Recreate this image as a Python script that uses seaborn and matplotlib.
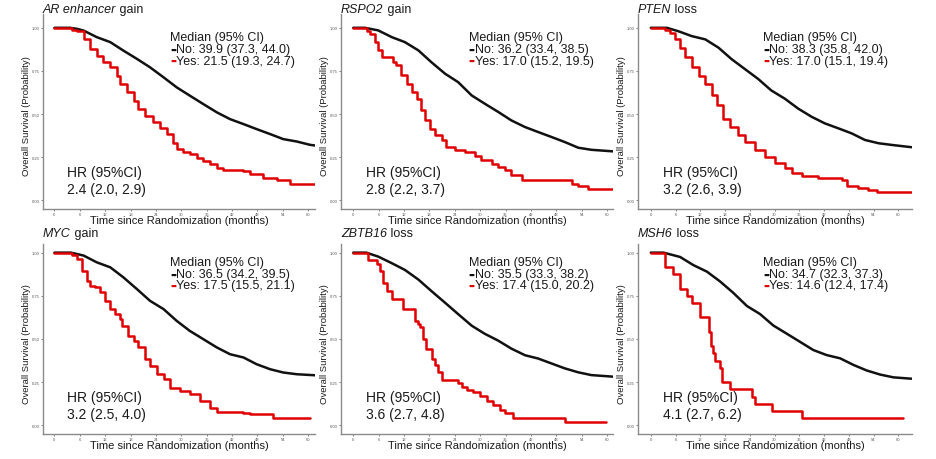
import matplotlib
matplotlib.use("Agg")
import matplotlib.pyplot as plt
import seaborn as sns

# ---- data (months, survival probability) ----
titles_gene = ["AR enhancer", "RSPO2", "PTEN", "MYC", "ZBTB16", "MSH6"]
titles_event = ["gain", "gain", "loss", "gain", "loss", "loss"]
median_no = ["No: 39.9 (37.3, 44.0)", "No: 36.2 (33.4, 38.5)", "No: 38.3 (35.8, 42.0)",
             "No: 36.5 (34.2, 39.5)", "No: 35.5 (33.3, 38.2)", "No: 34.7 (32.3, 37.3)"]
median_yes = ["Yes: 21.5 (19.3, 24.7)", "Yes: 17.0 (15.2, 19.5)", "Yes: 17.0 (15.1, 19.4)",
              "Yes: 17.5 (15.5, 21.1)", "Yes: 17.4 (15.0, 20.2)", "Yes: 14.6 (12.4, 17.4)"]
hr_text = ["2.4 (2.0, 2.9)", "2.8 (2.2, 3.7)", "3.2 (2.6, 3.9)",
           "3.2 (2.5, 4.0)", "3.6 (2.7, 4.8)", "4.1 (2.7, 6.2)"]
x_ticks = [0, 6, 12, 18, 24, 30, 36, 42, 48, 54, 60]
y_ticks = [0.00, 0.25, 0.50, 0.75, 1.00]

ar_no_t = [0, 3.7, 5.3, 6.9, 10, 13.2, 16.3, 19.5, 22.6, 25.8, 28.9, 32, 35.2, 38.4, 41.5, 44.7, 47.8, 51, 54.1,
           57.3, 60.4, 61.6]
ar_no_s = [1.0, 1.0, 0.994, 0.984, 0.946, 0.917, 0.868, 0.82, 0.771, 0.713, 0.655, 0.607, 0.558, 0.51, 0.471,
           0.442, 0.413, 0.384, 0.355, 0.341, 0.322, 0.318]
ar_yes_t = [0, 4.1, 5.3, 6.9, 8.4, 10, 11.6, 13.2, 14.7, 15.5, 17.1, 18.7, 19.8, 21.4, 23.4, 25, 26.5, 28.1, 28.9,
            30.5, 32, 33.6, 35.2, 36.8, 38.4, 39.9, 44.6, 46.2, 49.4, 52.5, 55.7, 61.6]
ar_yes_s = [1.0, 0.99, 0.984, 0.936, 0.878, 0.839, 0.80, 0.771, 0.723, 0.674, 0.626, 0.578, 0.529, 0.49, 0.452,
            0.422, 0.384, 0.335, 0.297, 0.283, 0.267, 0.248, 0.229, 0.209, 0.186, 0.174, 0.17, 0.151, 0.132,
            0.116, 0.097, 0.093]

rspo2_no_t = [0, 2.8, 5.9, 9.1, 12.2, 15.4, 18.5, 21.7, 24.8, 28, 31.1, 34.3, 37.4, 40.6, 43.7, 46.9, 50, 53.2,
              56.3, 61.4]
rspo2_no_s = [1.0, 1.0, 0.985, 0.946, 0.917, 0.869, 0.80, 0.734, 0.685, 0.608, 0.56, 0.512, 0.463, 0.425, 0.396,
              0.367, 0.338, 0.305, 0.293, 0.284]
rspo2_yes_t = [0, 3.2, 3.9, 5.1, 5.9, 6.7, 9.5, 10.2, 11.4, 12.6, 13.8, 15, 16.1, 16.9, 18.1, 19.3, 20.9, 22,
               24, 26.4, 28.7, 30.3, 32.7, 34.3, 35.8, 37.4, 39.8, 50, 51.6, 53.2, 55.5, 61.4]
rspo2_yes_s = [1.0, 0.98, 0.965, 0.917, 0.869, 0.83, 0.80, 0.782, 0.724, 0.676, 0.627, 0.589, 0.521, 0.463, 0.415,
               0.376, 0.347, 0.309, 0.29, 0.28, 0.26, 0.232, 0.212, 0.193, 0.174, 0.145, 0.118, 0.116, 0.097,
               0.081, 0.064, 0.064]

pten_no_t = [0, 3.9, 6.7, 9.9, 13.2, 16.4, 19.6, 22.8, 26, 29.2, 32.5, 35.7, 39, 42.2, 45.5, 48.7, 51.9, 55.2,
             58.5, 63.2]
pten_no_s = [1.0, 1.0, 0.98, 0.952, 0.933, 0.885, 0.818, 0.761, 0.704, 0.637, 0.589, 0.532, 0.484, 0.446, 0.417,
             0.388, 0.35, 0.331, 0.321, 0.308]
pten_yes_t = [0, 3.5, 4.7, 5.9, 7.1, 8.3, 9.9, 11.6, 13.2, 14.8, 16, 17.6, 19.2, 21.2, 22.8, 25.3, 27.7, 30.1,
              32.6, 34.2, 36.6, 40.6, 46.3, 47.5, 50.3, 52.7, 54.8, 63.2]
pten_yes_s = [1.0, 0.985, 0.971, 0.933, 0.885, 0.828, 0.77, 0.723, 0.675, 0.608, 0.551, 0.474, 0.426, 0.379, 0.34,
              0.293, 0.254, 0.216, 0.187, 0.159, 0.14, 0.13, 0.12, 0.082, 0.073, 0.063, 0.048, 0.048]

myc_no_t = [0, 3.9, 6.9, 10, 13.2, 16.3, 19.5, 22.6, 25.8, 28.9, 32, 35.2, 38.4, 41.5, 44.7, 47.8, 51, 54.1, 57.3,
            61.6]
myc_no_s = [1.0, 1.0, 0.983, 0.944, 0.915, 0.857, 0.789, 0.721, 0.673, 0.605, 0.547, 0.499, 0.451, 0.412, 0.393,
            0.354, 0.325, 0.306, 0.296, 0.29]
myc_yes_t = [0, 4.1, 5.3, 6.5, 7.6, 8.4, 9.6, 10.8, 12, 13.2, 14.3, 15.5, 15.9, 17.5, 18.7, 19.8, 21.4, 22.6,
             24.2, 25.8, 27.3, 29.7, 32, 34.4, 36.8, 38.4, 44.6, 46.2, 51.7, 60.4]
myc_yes_s = [1.0, 0.985, 0.963, 0.896, 0.837, 0.809, 0.799, 0.77, 0.721, 0.673, 0.644, 0.615, 0.576, 0.518, 0.489,
             0.451, 0.383, 0.344, 0.296, 0.267, 0.219, 0.199, 0.18, 0.141, 0.103, 0.079, 0.074, 0.064, 0.044,
             0.044]

zbtb16_no_t = [0, 3.1, 5.9, 9.1, 12.2, 15.4, 18.5, 21.7, 24.8, 28, 31.1, 34.3, 37.4, 40.6, 43.7, 46.9, 50, 53.2,
               56.3, 61.4]
zbtb16_no_s = [1.0, 1.0, 0.977, 0.939, 0.90, 0.844, 0.777, 0.71, 0.644, 0.577, 0.53, 0.49, 0.444, 0.406, 0.387,
               0.358, 0.33, 0.307, 0.291, 0.282]
zbtb16_yes_t = [0, 3.4, 5.5, 6.3, 7.1, 7.9, 9.1, 11.8, 14.6, 15.4, 15.8, 16.5, 17.3, 18.5, 19.3, 20.1, 20.9, 24.8,
                25.6, 26.8, 28.4, 30, 31.5, 33.1, 34.7, 35.8, 37.8, 50, 59.8]
zbtb16_yes_s = [1.0, 0.958, 0.937, 0.891, 0.825, 0.777, 0.73, 0.672, 0.606, 0.587, 0.568, 0.50, 0.444, 0.387,
                0.349, 0.31, 0.263, 0.244, 0.225, 0.206, 0.196, 0.168, 0.139, 0.12, 0.091, 0.072, 0.044, 0.022,
                0.022]

msh6_no_t = [0, 3.1, 7.1, 10.3, 13.6, 16.8, 20, 23.3, 26.5, 29.7, 33, 36.2, 39.4, 42.6, 45.9, 49.1, 52.3, 55.6,
             58.8, 63.2]
msh6_no_s = [1.0, 1.0, 0.975, 0.928, 0.89, 0.833, 0.767, 0.691, 0.644, 0.578, 0.53, 0.483, 0.436, 0.407, 0.388,
             0.35, 0.318, 0.294, 0.278, 0.27]
msh6_yes_t = [0, 3.5, 5.5, 7.1, 8.7, 9.9, 12, 14, 14.5, 15, 15.5, 16.8, 17.2, 19.2, 24.5, 25.3, 29.3, 36.6, 61.2]
msh6_yes_s = [1.0, 0.917, 0.875, 0.792, 0.75, 0.708, 0.625, 0.542, 0.458, 0.417, 0.375, 0.333, 0.25, 0.208, 0.167,
              0.125, 0.083, 0.042, 0.042]

curves_no = [(ar_no_t, ar_no_s), (rspo2_no_t, rspo2_no_s), (pten_no_t, pten_no_s),
             (myc_no_t, myc_no_s), (zbtb16_no_t, zbtb16_no_s), (msh6_no_t, msh6_no_s)]
curves_yes = [(ar_yes_t, ar_yes_s), (rspo2_yes_t, rspo2_yes_s), (pten_yes_t, pten_yes_s),
              (myc_yes_t, myc_yes_s), (zbtb16_yes_t, zbtb16_yes_s), (msh6_yes_t, msh6_yes_s)]

# ---- layout (pixel boxes of the 936x460 reference) ----
W, H = 936, 460
col_left = [43, 341, 638]
col_width = [272, 272, 274]
col_xlim = [(-2.7, 61.6), (-2.9, 61.4), (-3.1, 63.3)]
row_top = [15, 245]
row_bottom = [210, 435]
row_ylim = [(-0.05, 1.08), (-0.05, 1.05)]

BLACK = "#111111"
RED = "#e00000"
TXT = "#1a1a1a"

sns.set_theme(style="white")
plt.rcParams["font.family"] = ["Liberation Sans", "DejaVu Sans"]

fig = plt.figure(figsize=(W / 100, H / 100), dpi=100)

for i in range(6):
    r, c = divmod(i, 3)
    h_px = row_bottom[r] - row_top[r]
    ax = fig.add_axes([col_left[c] / W, 1 - row_bottom[r] / H, col_width[c] / W, h_px / H])

    t, s = curves_no[i]
    sns.lineplot(x=t, y=s, ax=ax, color=BLACK, linewidth=1.8, estimator=None, sort=False)
    t, s = curves_yes[i]
    sns.lineplot(x=t, y=s, ax=ax, color=RED, linewidth=1.8, estimator=None, sort=False,
                 drawstyle="steps-post")

    ax.set_xlim(*col_xlim[c])
    ax.set_ylim(*row_ylim[r])
    ax.set_xticks(x_ticks)
    ax.set_yticks(y_ticks)
    ax.set_xticklabels([str(v) for v in x_ticks])
    ax.set_yticklabels([f"{v:.2f}" for v in y_ticks])
    ax.tick_params(axis="both", labelsize=3, colors="#555555", length=1.5, width=0.5, pad=1,
                   bottom=True, left=True)
    sns.despine(ax=ax)
    for side in ["left", "bottom"]:
        ax.spines[side].set_color("#8a8a8a")
        ax.spines[side].set_linewidth(1.0)

    ax.set_xlabel("Time since Randomization (months)", fontsize=8, color=TXT)
    ax.set_ylabel("Overall Survival (Probability)", fontsize=6.8, color=TXT)
    ax.xaxis.set_label_coords(0.5, -0.032)
    ax.yaxis.set_label_coords(-0.045, 0.48)

    # title: italic gene name + plain event word
    gap = 2 if r == 0 else 8
    tt = ax.text(0, 1 + gap / h_px, titles_gene[i], transform=ax.transAxes, fontsize=9,
                 fontstyle="italic", color=TXT, va="baseline", ha="left")
    ax.annotate(" " + titles_event[i], xy=(1, 0), xycoords=tt, fontsize=9, color=TXT,
                va="bottom", ha="left")

    # median block
    mx = 27.3
    ax.text(mx, 0.948, "Median (95% CI)", fontsize=9, color=TXT, va="center", ha="left")
    ax.text(mx, 0.877, "\u25ac", fontsize=4.5, family="DejaVu Sans", color=BLACK, va="center", ha="left")
    ax.annotate(median_no[i], xy=(mx, 0.877), xytext=(6, 0), textcoords="offset pixels",
                fontsize=9, color=TXT, va="center", ha="left")
    ax.text(mx, 0.81, "\u25ac", fontsize=4.5, family="DejaVu Sans", color=RED, va="center", ha="left")
    ax.annotate(median_yes[i], xy=(mx, 0.81), xytext=(6, 0), textcoords="offset pixels",
                fontsize=9, color=TXT, va="center", ha="left")

    # hazard ratio block
    ax.text(2.9, 0.165, "HR (95%CI)", fontsize=10, color=TXT, va="center", ha="left")
    ax.text(2.9, 0.065, hr_text[i], fontsize=10, color=TXT, va="center", ha="left")

fig.savefig("out.png", dpi=100, facecolor="white")
